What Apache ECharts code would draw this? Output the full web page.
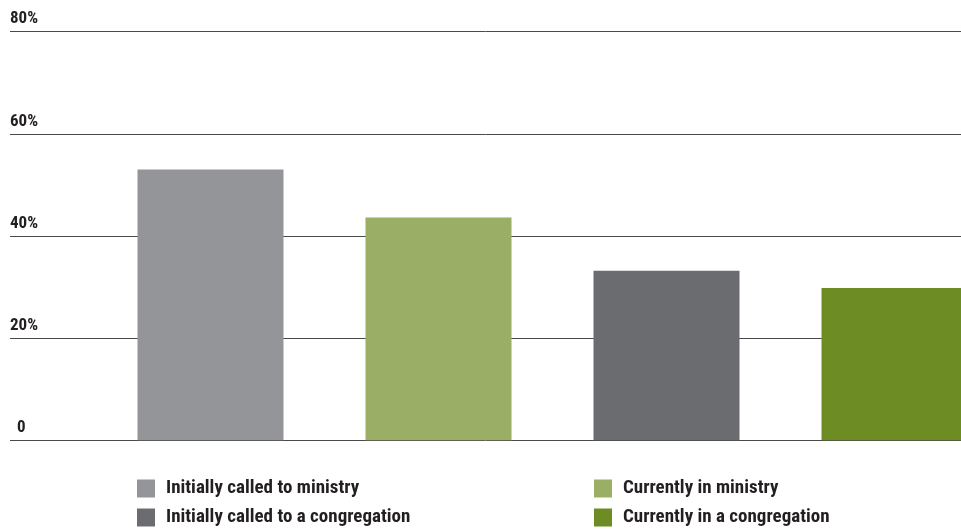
<!DOCTYPE html>
<html>
<head>
<meta charset="utf-8">
<script src="https://cdn.jsdelivr.net/npm/echarts@6/dist/echarts.min.js"></script>
<style>
html,body{margin:0;padding:0;background:#fff;}
#chart{width:961px;height:529px;}
</style>
</head>
<body>
<div id="chart"></div>
<script>
const categories = ['Initially called to ministry', 'Currently in ministry', 'Initially called to a congregation', 'Currently in a congregation'];
const values = [53.0, 43.6, 33.2, 29.8];
const yTicks = [0, 20, 40, 60, 80];

const barColors = ['#949599', '#9aae65', '#6b6c70', '#6d8c24'];
const FONT = '"Roboto Condensed", "Open Sans Condensed", "Liberation Sans", sans-serif';

const chart = echarts.init(document.getElementById('chart'));

const series = categories.map((name, i) => ({
  name: name,
  type: 'bar',
  xAxisIndex: 1,
  yAxisIndex: 1,
  stack: 'all',
  barWidth: 146,
  itemStyle: { color: barColors[i] },
  data: categories.map((c, j) => (j === i ? values[i] : '-')),
  z: 3
}));

const option = {
  animation: false,
  backgroundColor: '#fff',
  grid: [
    { left: 10, right: 0, top: 31.7, bottom: 88.7, containLabel: false, outerBoundsMode: 'none' },
    { left: 96.5, width: 912, top: 31.7, bottom: 88.7, containLabel: false, outerBoundsMode: 'none' }
  ],
  xAxis: [
    { type: 'category', gridIndex: 0, data: categories, show: false },
    { type: 'category', gridIndex: 1, data: categories, show: false }
  ],
  yAxis: [
    {
      type: 'value', gridIndex: 0, min: yTicks[0], max: yTicks[yTicks.length - 1], interval: 20,
      axisLine: { show: false }, axisTick: { show: false },
      splitLine: { show: true, lineStyle: { color: '#4a4a4a', width: 1 } },
      axisLabel: {
        inside: true, margin: 0, align: 'left', verticalAlign: 'bottom',
        padding: [0, 0, 4, 0],
        fontFamily: FONT, fontWeight: 'bold', fontSize: 17, color: '#231f20',
        formatter: v => (v === 0 ? '{z|0}' : v + '%'),
        rich: { z: { padding: [0, 0, 0, 7], fontFamily: FONT, fontWeight: 'bold', fontSize: 17, color: '#231f20' } }
      }
    },
    {
      type: 'value', gridIndex: 1, min: yTicks[0], max: yTicks[yTicks.length - 1], interval: 20,
      show: false, splitLine: { show: false }
    }
  ],
  legend: [
    {
      data: [categories[0], categories[2]],
      orient: 'vertical', left: 137, top: 479, padding: 0,
      itemWidth: 18, itemHeight: 18, itemGap: 10,
      icon: 'rect',
      textStyle: { fontFamily: FONT, fontWeight: 'bold', fontSize: 19, color: '#231f20', padding: [0, 0, 0, 6] },
      selectedMode: false
    },
    {
      data: [categories[1], categories[3]],
      orient: 'vertical', left: 594, top: 479, padding: 0,
      itemWidth: 18, itemHeight: 18, itemGap: 10,
      icon: 'rect',
      textStyle: { fontFamily: FONT, fontWeight: 'bold', fontSize: 19, color: '#231f20', padding: [0, 0, 0, 6] },
      selectedMode: false
    }
  ],
  series: series
};

chart.setOption(option);
</script>
</body>
</html>
